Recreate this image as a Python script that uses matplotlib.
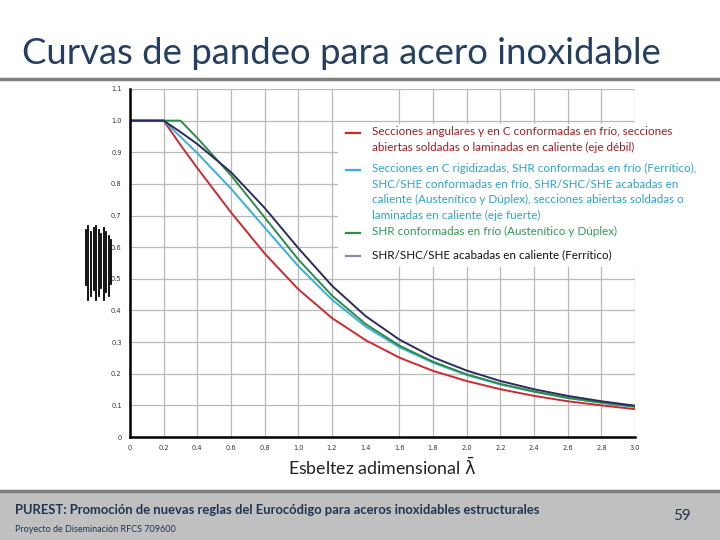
import matplotlib
matplotlib.use("Agg")
import matplotlib.pyplot as plt
from matplotlib.lines import Line2D
from matplotlib.patches import Rectangle

# esbeltez adimensional
lam = [0.0, 0.2, 0.3, 0.4, 0.6, 0.8, 1.0, 1.2, 1.4, 1.6, 1.8, 2.0, 2.2, 2.4, 2.6, 2.8, 3.0]

# factor de reduccion chi
chi_red = [1.0, 1.0, 0.923, 0.850, 0.710, 0.580, 0.467, 0.376, 0.306, 0.251, 0.209, 0.177, 0.151, 0.130, 0.113, 0.100, 0.088]
chi_cyan = [1.0, 1.0, 0.949, 0.897, 0.785, 0.662, 0.540, 0.434, 0.349, 0.284, 0.235, 0.196, 0.166, 0.143, 0.123, 0.108, 0.095]
chi_green = [1.0, 1.0, 1.0, 0.945, 0.827, 0.694, 0.561, 0.447, 0.357, 0.289, 0.238, 0.198, 0.168, 0.144, 0.124, 0.109, 0.096]
chi_navy = [1.0, 1.0, 0.964, 0.926, 0.837, 0.724, 0.597, 0.478, 0.382, 0.308, 0.252, 0.210, 0.177, 0.151, 0.130, 0.113, 0.099]

xticks = [0, 0.2, 0.4, 0.6, 0.8, 1.0, 1.2, 1.4, 1.6, 1.8, 2.0, 2.2, 2.4, 2.6, 2.8, 3.0]
xticklabels = ["0", "0.2", "0.4", "0.6", "0.8", "1.0", "1.2", "1.4", "1.6", "1.8", "2.0",
               "2.2", "2.4", "2.6", "2.8", "3.0"]
yticks = [0, 0.1, 0.2, 0.3, 0.4, 0.5, 0.6, 0.7, 0.8, 0.9, 1.0, 1.1]
yticklabels = ["0", "0.1", "0.2", "0.3", "0.4", "0.5", "0.6", "0.7", "0.8", "0.9", "1.0", "1.1"]

legend_labels = [
    "Secciones angulares y en C conformadas en frío, secciones\n"
    "abiertas soldadas o laminadas en caliente (eje débil)",
    "Secciones en C rigidizadas, SHR conformadas en frío (Ferrítico),\n"
    "SHC/SHE conformadas en frío, SHR/SHC/SHE acabadas en\n"
    "caliente (Austenítico y Dúplex), secciones abiertas soldadas o\n"
    "laminadas en caliente (eje fuerte)",
    "SHR conformadas en frío (Austenítico y Dúplex)",
    "SHR/SHC/SHE acabadas en caliente (Ferrítico)",
]

RED = "#cc2a30"
CYAN = "#3aaedc"
GREEN = "#2e8b45"
NAVY = "#2c2b5e"

plt.rcParams['font.family'] = ['Lato', 'DejaVu Sans']

fig = plt.figure(figsize=(7.2, 5.4), dpi=100)
W, H = 720, 540


def fx(px):
    return px / W


def fy(py):
    return 1 - py / H


# titulo y separador
fig.text(fx(22), fy(53), "Curvas de pandeo para acero inoxidable", fontsize=26.3,
         color="#243f60", va="center", ha="left")
fig.add_artist(Line2D([0, 1], [fy(79), fy(79)], color="#808080", lw=2.5))

# pie de pagina
fig.add_artist(Rectangle((0, 0), 1, fy(491), color="#c0c0c0", zorder=0))
fig.add_artist(Line2D([0, 1], [fy(491), fy(491)], color="#7f7f7f", lw=2.5))
fig.text(fx(15), fy(510), "PUREST: Promoción de nuevas reglas del Eurocódigo para aceros "
         "inoxidables estructurales", fontsize=9.4, color="#1f3550", va="center",
         fontweight="bold")
fig.text(fx(15), fy(530), "Proyecto de Diseminación RFCS 709600", fontsize=6.5,
         color="#1f3550", va="center")
fig.text(fx(682), fy(516), "59", fontsize=11, color="#1f3550", va="center", ha="center")

# etiqueta del eje y ilegible (trazos verticales)
for px, top, bot in [(86, 230, 285), (88, 226, 300), (91, 232, 296), (94, 228, 290),
                     (96, 226, 300), (99, 230, 296), (101, 234, 288), (104, 228, 300),
                     (106, 232, 292), (109, 236, 296), (111, 240, 284)]:
    fig.add_artist(Line2D([fx(px), fx(px)], [fy(top), fy(bot)], color="black", lw=1.3))

ax = fig.add_axes([fx(130), fy(437), fx(635) - fx(130), fy(89) - fy(437)])
ax.plot(lam, chi_red, color=RED, lw=1.4)
ax.plot(lam, chi_cyan, color=CYAN, lw=1.4)
ax.plot(lam, chi_green, color=GREEN, lw=1.4)
ax.plot(lam, chi_navy, color=NAVY, lw=1.4)

ax.set_xlim(0, 3.0)
ax.set_ylim(0, 1.1)
ax.set_xticks(xticks)
ax.set_xticklabels(xticklabels, family="DejaVu Sans")
ax.set_yticks(yticks)
ax.set_yticklabels(yticklabels, family="DejaVu Sans")
ax.tick_params(labelsize=4.8, colors="#333333", length=0, pad=6)
ax.grid(True, color="#b8b8b8", lw=0.9)
ax.set_axisbelow(True)
# en el original falta la linea de rejilla en 1.4
ax.xaxis.get_gridlines()[xticks.index(1.4)].set_visible(False)
for side in ["top", "right"]:
    ax.spines[side].set_visible(False)
for side in ["left", "bottom"]:
    ax.spines[side].set_linewidth(1.8)
    ax.spines[side].set_color("black")

ax.set_xlabel(r"Esbeltez adimensional $\bar{\mathrm{\lambda}}$", fontsize=12.8,
              color="#222222", labelpad=4)

# leyenda manual con fondo blanco
fig.add_artist(Rectangle((fx(338), fy(267)), fx(705) - fx(338), fy(124) - fy(267),
                         facecolor="white", edgecolor="none", zorder=2))
handle_colors = [RED, CYAN, GREEN, "#8a8aa0"]
text_colors = ["#a01c22", "#2fa3c8", "#2e9a52", "#111111"]
rows = [133, 170, 233, 256]
for lab, hc, tc, row in zip(legend_labels, handle_colors, text_colors, rows):
    fig.add_artist(Line2D([fx(346), fx(360)], [fy(row), fy(row)], color=hc, lw=1.6,
                          zorder=3))
    fig.text(fx(372), fy(row - 7), lab, fontsize=8.4, color=tc, va="top", ha="left",
             linespacing=1.5, zorder=3)

fig.savefig("out.png", dpi=100)
